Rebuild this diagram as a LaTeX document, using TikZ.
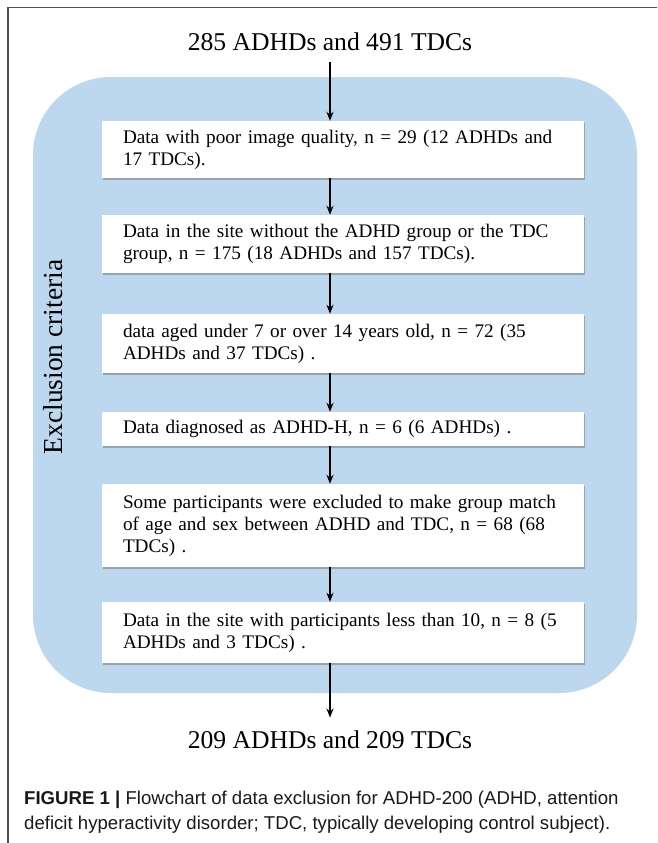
\documentclass[tikz,border=0pt]{standalone}
\usepackage{fontspec}
\setmainfont{Liberation Serif}
\newfontfamily\capfont{Liberation Sans}
\usetikzlibrary{arrows.meta,shadows}
\definecolor{panelblue}{RGB}{189,215,238}
\definecolor{framegray}{RGB}{80,80,80}
\begin{document}
\begin{tikzpicture}[x=1pt,y=-1pt,
  stepbox/.style={fill=white, text width=440pt, align=left, inner xsep=21pt, inner ysep=0pt,
    font=\fontsize{19.2}{22}\selectfont,
    drop shadow={shadow xshift=1.2pt, shadow yshift=-2pt, fill=black!60, opacity=0.45}},
  bigtext/.style={inner sep=0pt, font=\fontsize{25.6}{30}\selectfont},
  arr/.style={line width=1.8pt, -{Stealth[length=9pt,width=7pt]}},
  captext/.style={inner sep=0pt, anchor=base west, font=\capfont\fontsize{18.6}{25}\selectfont, text=black!90}]
\useasboundingbox (0,0) rectangle (657,843);
\fill[white] (0,0) rectangle (657,843);
% frame
\draw[framegray, line width=1.2pt] (657,7.5) -- (8,7.5) -- (8,843);
% blue panel
\fill[panelblue, rounded corners=78pt] (33,77) rectangle (637,693);
% exclusion label
\node[rotate=90, inner sep=0pt, font=\fontsize{27.5}{30}\selectfont] (excl) at (53,357) {Exclusion criteria};
% titles
\node[bigtext, anchor=base] (top) at (330,50.5) {285 ADHDs and 491 TDCs};
\node[bigtext, anchor=base] (bot) at (330,748.5) {209 ADHDs and 209 TDCs};
% boxes
\node[stepbox, minimum height=57pt] (b1) at (343,149.5) {\mbox{Data with poor image quality, n = 29 (12 ADHDs and}\\17 TDCs).};
\node[stepbox, minimum height=58pt] (b2) at (343,244) {\mbox{Data in the site without the ADHD group or the TDC}\\group, n = 175 (18 ADHDs and 157 TDCs).};
\node[stepbox, minimum height=59pt] (b3) at (343,343.5) {\mbox{data aged under 7 or over 14 years old, n = 72 (35}\\ADHDs and 37 TDCs) .};
\node[stepbox, minimum height=34pt] (b4) at (343,429) {Data diagnosed as ADHD-H, n = 6 (6 ADHDs) .};
\node[stepbox, minimum height=83pt] (b5) at (343,525.5) {\mbox{Some participants were excluded to make group match}\\\mbox{of age and sex between ADHD and TDC, n = 68 (68}\\TDCs) .};
\node[stepbox, minimum height=61pt] (b6) at (343,632.5) {\mbox{Data in the site with participants less than 10, n = 8 (5}\\ADHDs and 3 TDCs) .};
% arrows
\draw[arr] ([yshift=-11pt]top.south) -- (b1.north -| top);
\draw[arr] (b1.south -| top) -- (b2.north -| top);
\draw[arr] (b2.south -| top) -- (b3.north -| top);
\draw[arr] (b3.south -| top) -- (b4.north -| top);
\draw[arr] (b4.south -| top) -- (b5.north -| top);
\draw[arr] (b5.south -| top) -- (b6.north -| top);
\draw[arr] (b6.south -| top) -- ([yshift=13pt]bot.north);
% caption
\node[captext] (cap1) at (24,804) {{\bfseries FIGURE 1 |} Flowchart of data exclusion for ADHD-200 (ADHD, attention};
\node[captext] (cap2) at (24,829) {deficit hyperactivity disorder; TDC, typically developing control subject).};
\end{tikzpicture}
\end{document}
